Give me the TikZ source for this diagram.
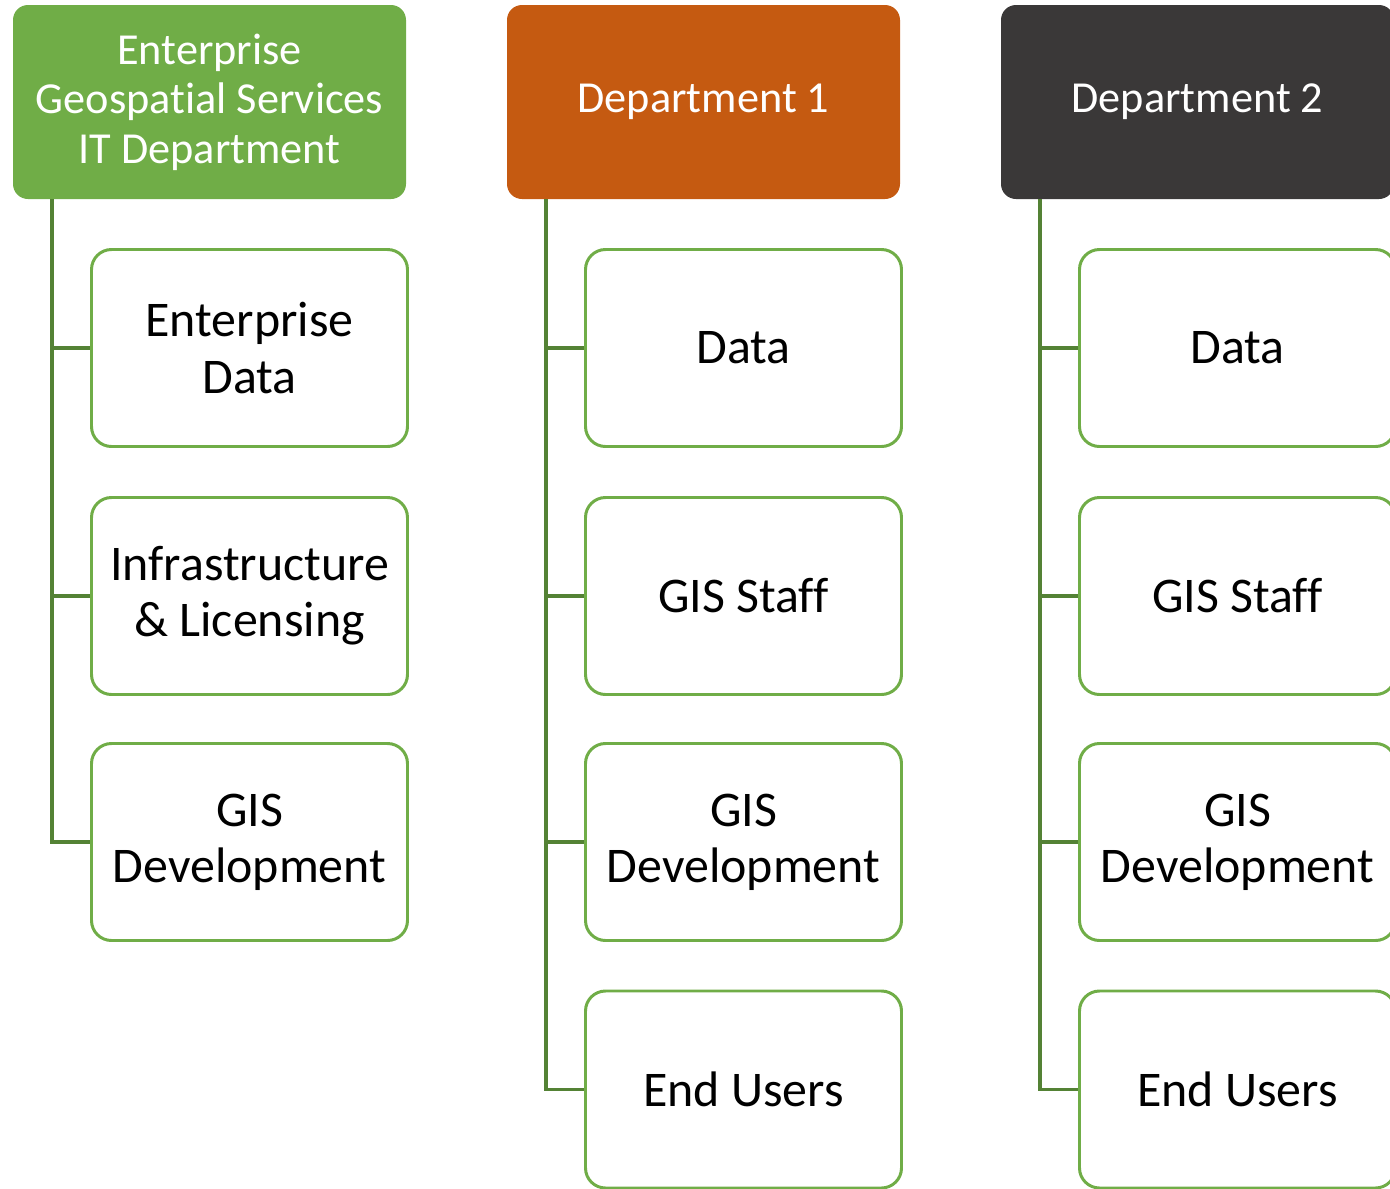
\documentclass[tikz,border=0pt]{standalone}
\usepackage{fontspec}
\setmainfont[Ligatures=NoCommon]{Carlito}
\usetikzlibrary{positioning}

\definecolor{hdgreen}{HTML}{70AD47}
\definecolor{hdorange}{HTML}{C55A11}
\definecolor{hddark}{HTML}{3A3838}
\definecolor{linkgreen}{HTML}{548235}

\tikzset{
    head/.style={rounded corners=0.15cm, minimum width=3.93cm, minimum height=1.94cm,
        text=white, align=center, inner sep=0pt, font=\fontsize{12.6}{14.1}\selectfont},
    unit/.style={draw=hdgreen, line width=0.85pt, rounded corners=0.2cm, fill=white,
        minimum width=3.16cm, minimum height=1.97cm, align=center, inner sep=0pt,
        font=\fontsize{14.2}{16}\selectfont},
    link/.style={draw=linkgreen, line width=0.95pt}
}

\begin{document}
\begin{tikzpicture}

    \useasboundingbox (0,0) rectangle (13.9,-11.89);

    % Column 1: Enterprise Geospatial Services
    \node[head, fill=hdgreen] (egs) at (2.095,-1.02) {Enterprise\\Geospatial Services\\IT Department};
    \node[unit] (egs1) at (2.495,-3.48) {Enterprise\\Data};
    \node[unit] (egs2) at (2.495,-5.96) {Infrastructure\\\& Licensing};
    \node[unit] (egs3) at (2.495,-8.42) {GIS\\Development};

    % Column 2: Department 1
    \node[head, fill=hdorange] (dptA) at (7.035,-1.02) {Department 1};
    \node[unit] (dptA1) at (7.435,-3.48) {Data};
    \node[unit] (dptA2) at (7.435,-5.96) {GIS Staff};
    \node[unit] (dptA3) at (7.435,-8.42) {GIS\\Development};
    \node[unit] (dptA4) at (7.435,-10.895) {End Users};

    % Column 3: Department 2
    \node[head, fill=hddark] (dptB) at (11.975,-1.02) {Department 2};
    \node[unit] (dptB1) at (12.375,-3.48) {Data};
    \node[unit] (dptB2) at (12.375,-5.96) {GIS Staff};
    \node[unit] (dptB3) at (12.375,-8.42) {GIS\\Development};
    \node[unit] (dptB4) at (12.375,-10.895) {End Users};

    % Trunk start points under each header
    \coordinate (egsT) at (0.52,-1.99);
    \coordinate (dptAT) at (5.46,-1.99);
    \coordinate (dptBT) at (10.40,-1.99);

    % Connectors
    \draw[link] (egsT) |- (egs1.west);
    \draw[link] (egsT) |- (egs2.west);
    \draw[link] (egsT) |- (egs3.west);

    \draw[link] (dptAT) |- (dptA1.west);
    \draw[link] (dptAT) |- (dptA2.west);
    \draw[link] (dptAT) |- (dptA3.west);
    \draw[link] (dptAT) |- (dptA4.west);

    \draw[link] (dptBT) |- (dptB1.west);
    \draw[link] (dptBT) |- (dptB2.west);
    \draw[link] (dptBT) |- (dptB3.west);
    \draw[link] (dptBT) |- (dptB4.west);

\end{tikzpicture}
\end{document}
